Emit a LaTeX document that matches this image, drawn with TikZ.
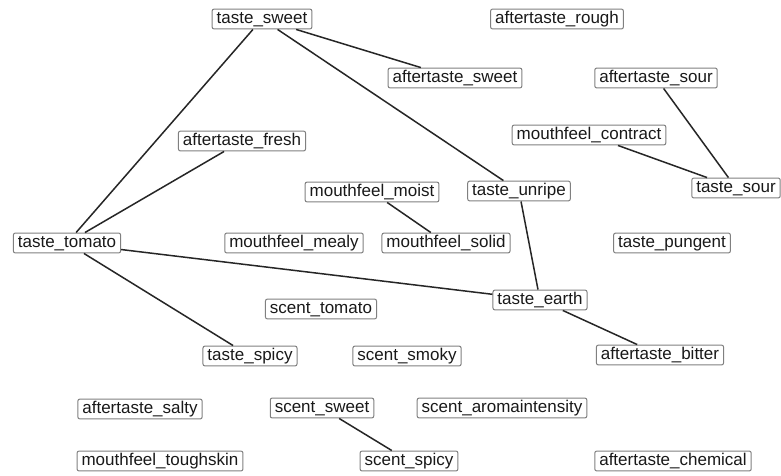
\documentclass[tikz,border=0pt]{standalone}
\usepackage{fontspec}
\setmainfont{Liberation Sans}
\begin{document}
\begin{tikzpicture}[x=1pt,y=-1pt,
  lbl/.style={draw=black!50,line width=1pt,rounded corners=2pt,fill=white,
    font=\fontsize{17}{20}\selectfont,text=black!90,inner xsep=4.5pt,inner ysep=2pt,
    text height=12.3pt,text depth=3.6pt},
  edge/.style={draw=black!85,line width=1.5pt}]
\path[use as bounding box,fill=white] (0,0) rectangle (781,475);
\node[lbl] (tsweet) at (262,19) {taste\_sweet};
\node[lbl] (arough) at (557,19) {aftertaste\_rough};
\node[lbl] (asweet) at (455,78) {aftertaste\_sweet};
\node[lbl] (asour) at (656,78) {aftertaste\_sour};
\node[lbl] (afresh) at (242,141) {aftertaste\_fresh};
\node[lbl] (mcontract) at (589,135) {mouthfeel\_contract};
\node[lbl] (mmoist) at (372,192) {mouthfeel\_moist};
\node[lbl] (tunripe) at (519,191) {taste\_unripe};
\node[lbl] (tsour) at (736,188) {taste\_sour};
\node[lbl] (ttomato) at (67,243) {taste\_tomato};
\node[lbl] (mmealy) at (294,243) {mouthfeel\_mealy};
\node[lbl] (msolid) at (446,243) {mouthfeel\_solid};
\node[lbl] (tpungent) at (672,243) {taste\_pungent};
\node[lbl] (tearth) at (540,300) {taste\_earth};
\node[lbl] (stomato) at (321,309) {scent\_tomato};
\node[lbl] (tspicy) at (250,356) {taste\_spicy};
\node[lbl] (ssmoky) at (407,356) {scent\_smoky};
\node[lbl] (abitter) at (660,355) {aftertaste\_bitter};
\node[lbl] (asalty) at (140,409) {aftertaste\_salty};
\node[lbl] (ssweet) at (322,408) {scent\_sweet};
\node[lbl] (saroma) at (502,408) {scent\_aromaintensity};
\node[lbl] (mtough) at (160,461) {mouthfeel\_toughskin};
\node[lbl] (sspicy) at (409,461) {scent\_spicy};
\node[lbl] (achem) at (673,461) {aftertaste\_chemical};
\draw[edge] (tsweet) -- (ttomato);
\draw[edge] (tsweet) -- (asweet);
\draw[edge] (tsweet) -- (tunripe);
\draw[edge] (afresh) -- (ttomato);
\draw[edge] (ttomato) -- (tearth);
\draw[edge] (ttomato) -- (tspicy);
\draw[edge] (tunripe) -- (tearth);
\draw[edge] (mmoist) -- (msolid);
\draw[edge] (mcontract) -- (tsour);
\draw[edge] (asour) -- (tsour);
\draw[edge] (tearth) -- (abitter);
\draw[edge] (ssweet) -- (sspicy);
\end{tikzpicture}
\end{document}
